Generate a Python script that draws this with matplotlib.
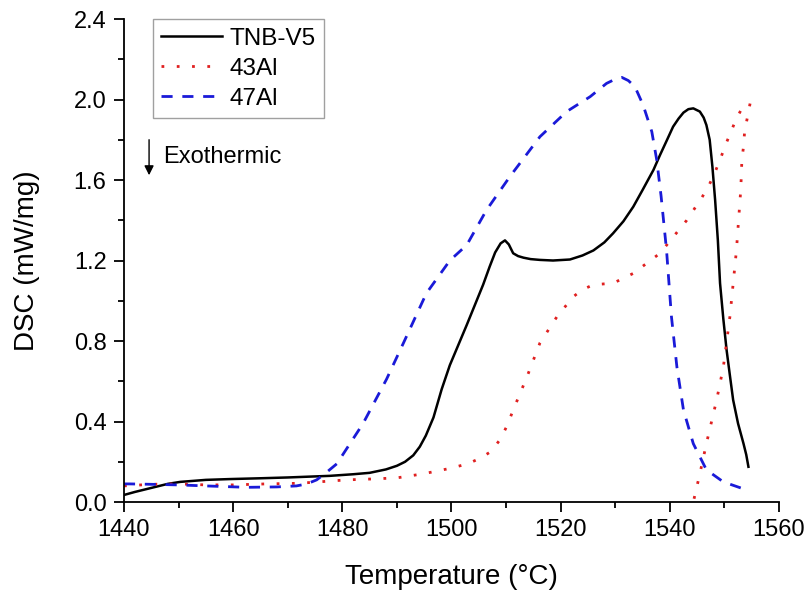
import matplotlib.pyplot as plt
from matplotlib.ticker import MultipleLocator

plt.rcParams['font.family'] = ['Liberation Sans', 'DejaVu Sans']

# TNB-V5 heating trace
tnb_T = [1440, 1442, 1445, 1448, 1450.3, 1455, 1459.4, 1465, 1470, 1477.7, 1482, 1485,
         1488, 1490, 1491.5, 1493, 1494.2, 1495.3, 1496.7, 1498.2, 1499.7, 1502.8, 1505.8,
         1507, 1508, 1509, 1509.8, 1510.5, 1511.3, 1512.2, 1513.2, 1514.5, 1516.2, 1518.6,
         1521.7, 1524, 1526, 1528, 1529.6, 1531.5, 1533.3, 1535, 1537, 1538.2, 1539.5,
         1540.6, 1541.6, 1542.5, 1543.4, 1544.3, 1545.5, 1546.2, 1546.7, 1547.3, 1547.8,
         1548.3, 1548.8, 1549.2, 1549.8, 1550.4, 1551, 1551.6, 1552.5, 1553.5, 1554, 1554.4]
tnb_dsc = [0.035, 0.05, 0.07, 0.09, 0.10, 0.11, 0.114, 0.118, 0.122, 0.13, 0.138, 0.145,
           0.162, 0.18, 0.2, 0.232, 0.275, 0.33, 0.42, 0.56, 0.68, 0.88, 1.08,
           1.17, 1.24, 1.285, 1.30, 1.28, 1.236, 1.222, 1.214, 1.207, 1.203, 1.20,
           1.205, 1.225, 1.25, 1.29, 1.335, 1.395, 1.467, 1.55, 1.65, 1.724, 1.80,
           1.865, 1.905, 1.935, 1.952, 1.956, 1.94, 1.91, 1.873, 1.80, 1.666,
           1.50, 1.30, 1.087, 0.91, 0.755, 0.63, 0.507, 0.39, 0.29, 0.235, 0.175]

# 43Al heating trace (loops back at the end)
al43_T = [1440, 1445, 1450, 1455, 1460, 1466, 1472, 1480.8, 1486, 1490, 1494.8, 1499.7,
          1503, 1505.2, 1507.2, 1508.9, 1510.2, 1511.3, 1513.8, 1516.2, 1519.3, 1522.3,
          1524, 1526, 1529.6, 1533.3, 1538.2, 1543.1, 1545.9, 1547.2, 1548.3, 1549.3,
          1550.2, 1551.2, 1552.2, 1553.2, 1554.2, 1554.7, 1554.2, 1553.7, 1553.5, 1553.2,
          1553.0, 1552.2, 1551, 1549.8, 1548.6, 1546.7, 1545.5, 1544.3]
al43_dsc = [0.08, 0.088, 0.09, 0.085, 0.085, 0.09, 0.093, 0.11, 0.115, 0.12, 0.14, 0.167,
            0.19, 0.217, 0.25, 0.31, 0.38, 0.457, 0.62, 0.79, 0.92, 1.02,
            1.055, 1.08, 1.087, 1.136, 1.236, 1.40, 1.514, 1.575, 1.64, 1.708,
            1.774, 1.84, 1.906, 1.955, 1.975, 1.98, 1.91, 1.84, 1.766, 1.70,
            1.554, 1.25, 0.92, 0.67, 0.51, 0.29, 0.14, 0.0]

# 47Al heating trace
al47_T = [1440, 1441, 1445, 1450, 1455, 1462.5, 1468, 1471.6, 1473.5, 1475.3, 1477, 1479,
          1483.8, 1488.1, 1491.2, 1495.4, 1499.7, 1502.8, 1506.4, 1510.7, 1516.2, 1521.1,
          1525.4, 1528.4, 1530.3, 1531.2, 1532.4, 1533.6, 1535.1, 1536.7, 1537.6, 1538.4,
          1539.4, 1540.3, 1541.3, 1542.5, 1544.3, 1546.7, 1549.8, 1553.2]
al47_dsc = [0.09, 0.09, 0.088, 0.085, 0.08, 0.073, 0.075, 0.08, 0.09, 0.11, 0.145, 0.19,
            0.39, 0.61, 0.79, 1.037, 1.2, 1.277, 1.45, 1.617, 1.815, 1.94,
            2.014, 2.08, 2.105, 2.11, 2.094, 2.064, 1.973, 1.84, 1.70, 1.52,
            1.25, 0.92, 0.67, 0.457, 0.29, 0.16, 0.10, 0.068]

fig = plt.figure(figsize=(8.06, 5.92), dpi=100)
ax = fig.add_axes([0.1538, 0.152, 0.8127, 0.8159])

ax.plot(tnb_T, tnb_dsc, color='black', lw=1.8, label='TNB-V5')
ax.plot(al43_T, al43_dsc, color='#e02020', lw=2, linestyle=(0, (1, 4.5)), label='43Al')
ax.plot(al47_T, al47_dsc, color='#1a1ad8', lw=2, linestyle=(0, (4, 3.5)), label='47Al')

ax.set_xlim(1440, 1560)
ax.set_ylim(0, 2.4)
ax.xaxis.set_major_locator(MultipleLocator(20))
ax.xaxis.set_minor_locator(MultipleLocator(10))
ax.yaxis.set_major_locator(MultipleLocator(0.4))
ax.yaxis.set_minor_locator(MultipleLocator(0.2))
ax.yaxis.set_major_formatter(plt.FormatStrFormatter('%.1f'))

for side in ['top', 'right']:
    ax.spines[side].set_visible(False)
for side in ['left', 'bottom']:
    ax.spines[side].set_linewidth(1.3)
ax.tick_params(which='major', direction='out', length=7.5, width=1.3, labelsize=17, pad=5)
ax.tick_params(which='minor', direction='out', length=4, width=1.3)

ax.set_xlabel('Temperature (°C)', fontsize=20, labelpad=16)
ax.set_ylabel('DSC (mW/mg)', fontsize=20, labelpad=24)

ax.annotate('', xy=(1444.6, 1.61), xytext=(1444.6, 1.814),
            arrowprops=dict(arrowstyle='-|>', color='black', lw=1, mutation_scale=14))
ax.text(1447.1, 1.714, 'Exothermic', fontsize=17, va='center')

leg = ax.legend(loc='upper left', bbox_to_anchor=(0.044, 1.0), borderaxespad=0,
                fontsize=17.5, fancybox=False, handlelength=2.5, handletextpad=0.3,
                labelspacing=0.33, borderpad=0.35)
leg.get_frame().set_edgecolor('#888888')
leg.get_frame().set_linewidth(1)

fig.savefig('out.png', dpi=100)
